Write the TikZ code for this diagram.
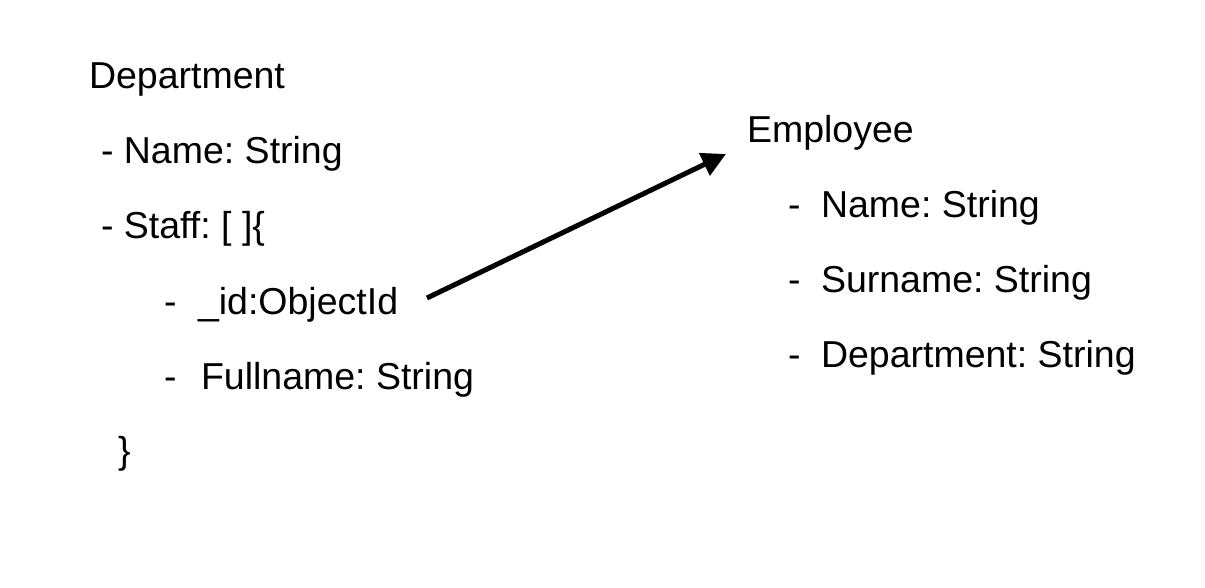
\documentclass[tikz,border=0pt]{standalone}
\usepackage{fontspec}
\setmainfont{Liberation Sans}
\usetikzlibrary{arrows.meta}
\begin{document}
\frenchspacing
\begin{tikzpicture}[x=1pt,y=-1pt,
  txt/.style={anchor=base west,inner sep=0pt,outer sep=0pt,font=\fontsize{37.5}{40}\selectfont},
  link/.style={line width=5pt,-{Triangle[length=24pt,width=24pt]}}]
\useasboundingbox[fill=white] (0,0) rectangle (1205,588);
% left column
\node[txt] (dept) at (89,89) {Department};
\node[txt] (dname) at (101,164) {- Name: String};
\node[txt] (dstaff) at (101,239) {- Staff: [ ]\{};
\node[txt] (d1) at (164,314) {-};
\node[txt] (idtext) at (198,314) {\_id:ObjectId};
\node[txt] (d2) at (164,389) {-};
\node[txt] (fulltext) at (201,389) {Fullname: String};
\node[txt] (close) at (118,463) {\}};
% right column
\node[txt] (emp) at (747,143) {Employee};
\node[txt] (e1) at (788,218) {-};
\node[txt] (ename) at (821,218) {Name: String};
\node[txt] (e2) at (788,292) {-};
\node[txt] (esur) at (821,292) {Surname: String};
\node[txt] (e3) at (788,367) {-};
\node[txt] (edept) at (821,367) {Department: String};
% arrow
\coordinate (a1) at (427,298);
\coordinate (a2) at (726,154);
\draw[link] (a1) -- (a2);
\end{tikzpicture}
\end{document}
